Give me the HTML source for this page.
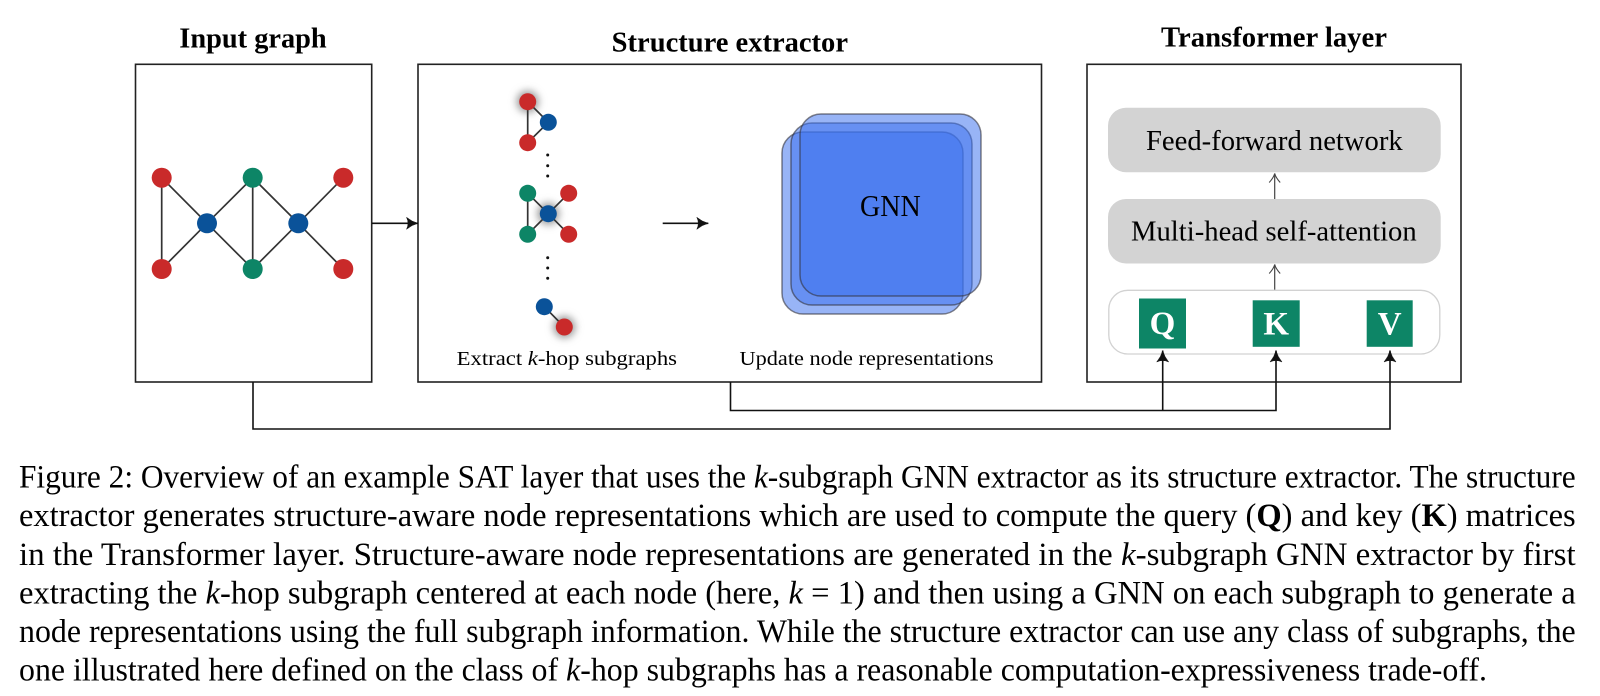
<!DOCTYPE html>
<html><head><meta charset="utf-8"><style>
html,body{margin:0;padding:0;background:#fff;width:1600px;height:696px;overflow:hidden}
svg{display:block}
text{font-family:"Liberation Serif",serif;fill:#000}
.c{font-size:33px}
.t{font-size:28px;font-weight:bold}
.l{font-size:20.5px}
.m{font-size:29px}
.w{font-size:33px;font-weight:bold;fill:#fff;text-anchor:middle}
.e{stroke:#333;stroke-width:1.7;fill:none}
.b{stroke:#111;stroke-width:1.6;fill:none}
.g{fill:rgba(58,112,238,.52);stroke:rgba(50,50,60,.6);stroke-width:1.5}
</style></head><body>
<svg width="1600" height="696" viewBox="0 0 1600 696" xmlns="http://www.w3.org/2000/svg">
<defs>
<filter id="f" x="-100%" y="-100%" width="300%" height="300%"><feGaussianBlur stdDeviation="4"/></filter>
<marker id="a" markerUnits="userSpaceOnUse" markerWidth="14" markerHeight="14" refX="12" refY="7" orient="auto"><path d="M0.5 1 Q6 5.5 12 7 Q6 8.5 0.5 13 Q3.5 7 0.5 1Z" fill="#111" stroke="#111" stroke-width=".5"/></marker>
<marker id="o" markerUnits="userSpaceOnUse" markerWidth="12" markerHeight="14" refX="10" refY="7" orient="auto"><path d="M1 1.5 Q6 6 10 7 Q6 8 1 12.5" fill="none" stroke="#444" stroke-width="1.1"/></marker>
</defs>

<text class="t" x="179.3" y="47.3" textLength="147.4" lengthAdjust="spacingAndGlyphs">Input graph</text>
<text class="t" x="611.7" y="51.7" textLength="236.3" lengthAdjust="spacingAndGlyphs">Structure extractor</text>
<text class="t" x="1161" y="46.5" textLength="226" lengthAdjust="spacingAndGlyphs">Transformer layer</text>

<rect x="135.5" y="64.3" width="236.2" height="317.7" fill="none" stroke="#222" stroke-width="1.6"/>
<rect x="418" y="64.3" width="623.5" height="317.7" fill="none" stroke="#222" stroke-width="1.6"/>
<rect x="1087" y="64.3" width="374" height="317.7" fill="none" stroke="#222" stroke-width="1.6"/>

<g class="e">
<path d="M161.7 177.7V269M161.7 177.7L207 223.3L161.7 269M207 223.3L252.7 177.7V269ZM252.7 177.7L298.3 223.3L252.7 269M298.3 223.3L343.3 177.7M298.3 223.3L343.3 269"/>
</g>
<g>
<circle cx="161.7" cy="177.7" r="10" fill="#c92a2a"/><circle cx="161.7" cy="269" r="10" fill="#c92a2a"/>
<circle cx="343.3" cy="177.7" r="10" fill="#c92a2a"/><circle cx="343.3" cy="269" r="10" fill="#c92a2a"/>
<circle cx="252.7" cy="177.7" r="10" fill="#0d8566"/><circle cx="252.7" cy="269" r="10" fill="#0d8566"/>
<circle cx="207" cy="223.3" r="10" fill="#0a5299"/><circle cx="298.3" cy="223.3" r="10" fill="#0a5299"/>
</g>

<path class="b" d="M372 223.3H418" marker-end="url(#a)"/>

<circle cx="527.7" cy="101.7" r="11" fill="#999" filter="url(#f)"/>
<circle cx="548.3" cy="213.7" r="11" fill="#999" filter="url(#f)"/>
<circle cx="564.3" cy="327" r="11" fill="#999" filter="url(#f)"/>
<g class="e">
<path d="M527.7 101.7V142.7L548.3 122.3ZM527.7 193.3V234.3L548.3 213.7ZM548.3 213.7L568.7 193.3M548.3 213.7L568.7 234.3M544.3 306.7L564.3 327"/>
</g>
<circle cx="527.7" cy="101.7" r="8.5" fill="#c92a2a"/><circle cx="527.7" cy="142.7" r="8.5" fill="#c92a2a"/><circle cx="548.3" cy="122.3" r="8.5" fill="#0a5299"/>
<circle cx="527.7" cy="193.3" r="8.5" fill="#0d8566"/><circle cx="527.7" cy="234.3" r="8.5" fill="#0d8566"/>
<circle cx="568.7" cy="193.3" r="8.5" fill="#c92a2a"/><circle cx="568.7" cy="234.3" r="8.5" fill="#c92a2a"/><circle cx="548.3" cy="213.7" r="8.5" fill="#0a5299"/>
<circle cx="544.3" cy="306.7" r="8.5" fill="#0a5299"/><circle cx="564.3" cy="327" r="8.5" fill="#c92a2a"/>
<g fill="#111">
<circle cx="547.7" cy="155" r="1.5"/><circle cx="547.7" cy="165.7" r="1.5"/><circle cx="547.7" cy="176" r="1.5"/>
<circle cx="547.7" cy="257.7" r="1.5"/><circle cx="547.7" cy="268" r="1.5"/><circle cx="547.7" cy="278.3" r="1.5"/>
</g>
<path class="b" d="M662.7 223.3H708.3" marker-end="url(#a)"/>
<text class="l" x="456.7" y="365" textLength="220.3" lengthAdjust="spacingAndGlyphs">Extract <tspan font-style="italic">k</tspan>-hop subgraphs</text>
<text class="l" x="739.5" y="365" textLength="254" lengthAdjust="spacingAndGlyphs">Update node representations</text>

<rect class="g" x="782" y="132" width="181" height="182" rx="21"/>
<rect class="g" x="791" y="123" width="181" height="182" rx="21"/>
<rect class="g" x="800" y="114" width="181" height="182" rx="21"/>
<text x="860" y="216" font-size="31" textLength="60.7" lengthAdjust="spacingAndGlyphs">GNN</text>

<rect x="1108" y="107.7" width="332.7" height="64.6" rx="18" fill="#d3d3d3"/>
<rect x="1108" y="199" width="332.7" height="64.5" rx="18" fill="#d3d3d3"/>
<text class="m" x="1146" y="150" textLength="256.7" lengthAdjust="spacingAndGlyphs">Feed-forward network</text>
<text class="m" x="1131" y="240.7" textLength="285.7" lengthAdjust="spacingAndGlyphs">Multi-head self-attention</text>
<path d="M1274.7 199V173.5" stroke="#444" stroke-width="1.2" fill="none" marker-end="url(#o)"/>
<path d="M1274.7 290V264.5" stroke="#444" stroke-width="1.2" fill="none" marker-end="url(#o)"/>
<rect x="1108.8" y="290.3" width="331" height="63.7" rx="19" fill="#fff" stroke="#d2d2d2" stroke-width="1.3"/>
<rect x="1139" y="298.5" width="47" height="50" fill="#0d8566"/>
<rect x="1252.7" y="300.3" width="47" height="46.5" fill="#0d8566"/>
<rect x="1366.7" y="300.3" width="46" height="46.5" fill="#0d8566"/>
<text class="w" x="1162.5" y="334">Q</text>
<text class="w" x="1276.2" y="334.5">K</text>
<text class="w" x="1389.7" y="334.5">V</text>

<path class="b" d="M730.5 382V410.5H1276V350.5" marker-end="url(#a)"/>
<path class="b" d="M1162.7 410.5V350.5" marker-end="url(#a)"/>
<path class="b" d="M253 382V429H1390V350.5" marker-end="url(#a)"/>

<text class="c" x="19" y="487.6" textLength="1556.7" lengthAdjust="spacingAndGlyphs">Figure 2: Overview of an example SAT layer that uses the <tspan font-style="italic">k</tspan>-subgraph GNN extractor as its structure extractor. The structure</text>
<text class="c" x="19" y="526.2" textLength="1556.7" lengthAdjust="spacingAndGlyphs">extractor generates structure-aware node representations which are used to compute the query (<tspan font-weight="bold">Q</tspan>) and key (<tspan font-weight="bold">K</tspan>) matrices</text>
<text class="c" x="19" y="564.8" textLength="1556.7" lengthAdjust="spacingAndGlyphs">in the Transformer layer.  Structure-aware node representations are generated in the <tspan font-style="italic">k</tspan>-subgraph GNN extractor by first</text>
<text class="c" x="19" y="603.4" textLength="1556.7" lengthAdjust="spacingAndGlyphs">extracting the <tspan font-style="italic">k</tspan>-hop subgraph centered at each node (here, <tspan font-style="italic">k</tspan> = 1) and then using a GNN on each subgraph to generate a</text>
<text class="c" x="19" y="642" textLength="1556.7" lengthAdjust="spacingAndGlyphs">node representations using the full subgraph information. While the structure extractor can use any class of subgraphs, the</text>
<text class="c" x="19" y="680.6" textLength="1468" lengthAdjust="spacingAndGlyphs">one illustrated here defined on the class of <tspan font-style="italic">k</tspan>-hop subgraphs has a reasonable computation-expressiveness trade-off.</text>
</svg>
</body></html>
